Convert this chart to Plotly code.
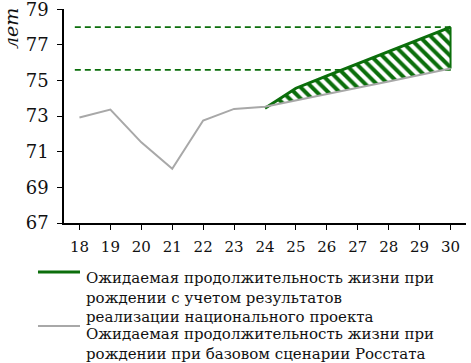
import plotly.graph_objects as go

years = [18, 19, 20, 21, 22, 23, 24, 25, 26, 27, 28, 29, 30]
base = [72.93, 73.37, 71.53, 70.05, 72.76, 73.41, 73.53, 73.9, 74.25, 74.6, 74.95, 75.3, 75.68]
proj_years = [24, 25, 26, 27, 28, 29, 30]
proj = [73.44, 74.57, 75.26, 75.95, 76.63, 77.32, 78.0]
target_hi = 78.0
target_lo = 75.6
yticks = [67, 69, 71, 73, 75, 77, 79]
legend_green = "Ожидаемая продолжительность жизни при<br>рождении с учетом результатов<br>реализации национального проекта"
legend_gray = "Ожидаемая продолжительность жизни при<br>рождении при базовом сценарии Росстата"

GREEN = "#0b6e0b"
GRAY = "#a8a8a8"
FONT = "DejaVu Serif"
TXT = "#111111"

base_proj = base[years.index(proj_years[0]):]

fig = go.Figure()
# hatched area (polygon between projection and base)
fig.add_trace(go.Scatter(
    x=proj_years + proj_years[::-1], y=proj + base_proj[::-1],
    fill="toself", mode="none", showlegend=False, hoverinfo="skip",
    fillcolor=GREEN,
    fillpattern=dict(shape="\\", fgcolor=GREEN, bgcolor="white", fgopacity=1,
                     fillmode="replace", size=8, solidity=0.5),
))
# right edge of hatched area
fig.add_trace(go.Scatter(
    x=[proj_years[-1], proj_years[-1]], y=[proj[-1], base_proj[-1]],
    mode="lines", line=dict(color=GREEN, width=2), showlegend=False, hoverinfo="skip",
))
fig.add_trace(go.Scatter(
    x=proj_years, y=proj, mode="lines", name="green", showlegend=False,
    line=dict(color=GREEN, width=3),
))
fig.add_trace(go.Scatter(
    x=years, y=base, mode="lines", name="gray", showlegend=False,
    line=dict(color=GRAY, width=2),
))

for v in (target_hi, target_lo):
    fig.add_shape(type="line", xref="x", yref="y", x0=17.85, x1=30.1, y0=v, y1=v,
                  line=dict(color=GREEN, width=1.8, dash="6px,4px"), layer="below")

# manual legend (symbols + text)
fig.add_shape(type="line", xref="paper", yref="paper", x0=-0.0647, x1=0.0398, y0=-0.229, y1=-0.229,
              line=dict(color=GREEN, width=3))
fig.add_shape(type="line", xref="paper", yref="paper", x0=-0.0647, x1=0.0398, y0=-0.4813, y1=-0.4813,
              line=dict(color=GRAY, width=2))
fig.add_annotation(text=legend_green, xref="paper", yref="paper", x=0.05, y=-0.3458,
                   xanchor="left", yanchor="middle", align="left", showarrow=False,
                   font=dict(family=FONT, size=15, color=TXT))
fig.add_annotation(text=legend_gray, xref="paper", yref="paper", x=0.05, y=-0.5654,
                   xanchor="left", yanchor="middle", align="left", showarrow=False,
                   font=dict(family=FONT, size=15, color=TXT))

fig.add_annotation(text="<i>лет</i>", xref="paper", yref="paper", x=-0.13, y=0.91,
                   textangle=-90, showarrow=False, font=dict(family=FONT, size=19, color=TXT),
                   xanchor="center", yanchor="middle")

fig.update_layout(
    width=471, height=363,
    margin=dict(l=64, r=5, t=9, b=140, autoexpand=False),
    paper_bgcolor="white", plot_bgcolor="white",
    font=dict(family=FONT, color=TXT),
    xaxis=dict(range=[17.5, 30.5], tickvals=years, ticktext=[str(y) for y in years],
               showgrid=False, zeroline=False, showline=True, linecolor="black", linewidth=1.5,
               ticks="outside", ticklen=5, tickcolor="black", ticklabelstandoff=4,
               ticklabeloverflow="allow",
               tickfont=dict(size=15, family=FONT, color=TXT)),
    yaxis=dict(range=[67, 79.02], tickvals=yticks, showgrid=False, zeroline=False,
               showline=True, linecolor="black", linewidth=1.5,
               ticks="outside", ticklen=5, tickcolor="black", ticklabelstandoff=5,
               ticklabeloverflow="allow",
               tickfont=dict(size=18, family=FONT, color=TXT)),
    showlegend=False,
)

fig.write_html("out.html", post_script="document.body.style.margin='0';",
               config={"displayModeBar": False})
